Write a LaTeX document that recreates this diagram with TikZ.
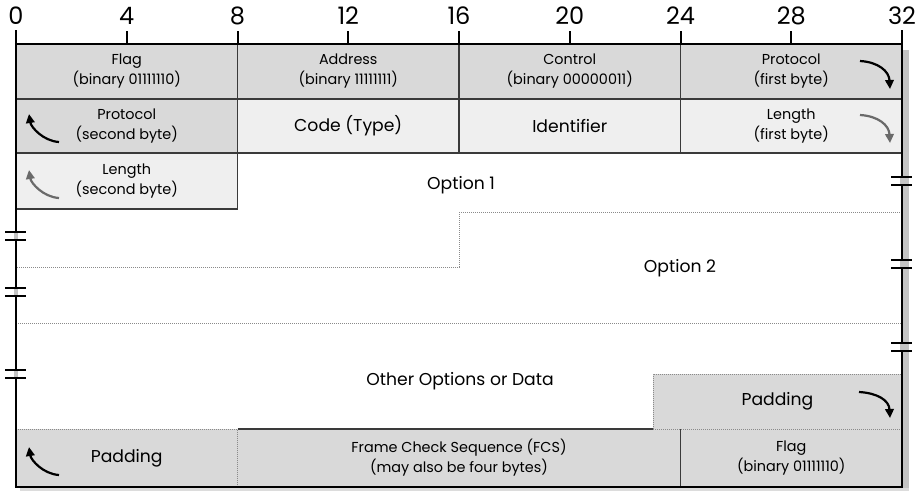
\documentclass[tikz,border=0pt]{standalone}
\usepackage{fontspec}
\setmainfont{Poppins}
\usetikzlibrary{arrows.meta}
\definecolor{midgray}{HTML}{D9D9D9}
\definecolor{litegray}{HTML}{EFEFEF}
\definecolor{linegray}{HTML}{3A3A3A}
\definecolor{dotgray}{HTML}{8A8A8A}
\definecolor{shadowgray}{HTML}{C4C4C4}
\definecolor{arrowgray}{HTML}{6A6A6A}
\begin{document}
\begin{tikzpicture}[x=1pt,y=-1pt,
  cell/.style={inner sep=0pt, outer sep=0pt, align=center, font=\fontsize{14.4}{20}\selectfont},
  bigfont/.style={font=\fontsize{17.2}{20}\selectfont},
  bigtext/.style={inner sep=0pt, align=center, bigfont},
  numtext/.style={inner sep=0pt, font=\fontsize{24}{28}\selectfont},
  frame/.style={line width=2.2pt, black},
  inner/.style={line width=1.3pt, linegray},
  dotline/.style={line width=1pt, dotgray, densely dotted},
  curvearrow/.style={line width=2.2pt, -{Triangle[length=9pt,width=8.5pt]}},
  breakline/.style={line width=2pt, black}
]
\useasboundingbox (0,0) rectangle (918,491);
\fill[white] (0,0) rectangle (918,491);
% shadow
\fill[shadowgray] (903,50) rectangle (909,491);
\fill[shadowgray!60] (20,488) rectangle (909,491);

% row 1
\node[cell, fill=midgray, minimum width=221.5pt, minimum height=55pt] (flagA) at (126.75,71.5) {Flag\\(binary 01111110)};
\node[cell, fill=midgray, minimum width=221.5pt, minimum height=55pt] (addr) at (348.25,71.5) {Address\\(binary 11111111)};
\node[cell, fill=midgray, minimum width=221.5pt, minimum height=55pt] (ctrl) at (569.75,71.5) {Control\\(binary 00000011)};
\node[cell, fill=midgray, minimum width=221.5pt, minimum height=55pt] (protoA) at (791.25,71.5) {Protocol\\(first byte)};
% row 2
\node[cell, fill=midgray, minimum width=221.5pt, minimum height=54pt] (protoB) at (126.75,126) {Protocol\\(second byte)};
\node[cell, fill=litegray, minimum width=221.5pt, minimum height=54pt, bigfont] (code) at (348.25,126) {Code (Type)};
\node[cell, fill=litegray, minimum width=221.5pt, minimum height=54pt, bigfont] (ident) at (569.75,126) {Identifier};
\node[cell, fill=litegray, minimum width=221.5pt, minimum height=54pt] (lenA) at (791.25,126) {Length\\(first byte)};
% row 3
\node[cell, fill=litegray, minimum width=221.5pt, minimum height=56pt] (lenB) at (126.75,181) {Length\\(second byte)};
% options
\node[bigtext] (opt1) at (461,185) {Option 1};
\node[bigtext] (opt2) at (680,268) {Option 2};
\node[bigtext] (other) at (460,381) {Other Options or Data};
% padding right
\node[cell, fill=midgray, minimum width=249pt, minimum height=55pt, bigfont] (padA) at (777.5,401.5) {Padding};
% bottom row
\node[cell, fill=midgray, minimum width=221.5pt, minimum height=58pt, bigfont] (padB) at (126.75,458) {Padding};
\node[cell, fill=midgray, minimum width=443pt, minimum height=58pt] (fcs) at (459,458) {Frame Check Sequence (FCS)\\(may also be four bytes)};
\node[cell, fill=midgray, minimum width=221.5pt, minimum height=58pt] (flagB) at (791.25,458) {Flag\\(binary 01111110)};

% inner solid lines
\draw[inner] (16,99) -- (902,99);
\draw[inner] (16,153) -- (902,153);
\draw[inner] (237.5,44) -- (237.5,209) -- (16,209);
\draw[inner] (459,44) -- (459,153);
\draw[inner] (680.5,44) -- (680.5,153);
\draw[inner] (237.5,429) -- (653,429);
\draw[inner] (680.5,429) -- (680.5,487);
% dotted lines
\draw[dotline] (459,212) -- (902,212);
\draw[dotline] (459,212) -- (459,267) -- (16,267);
\draw[dotline] (16,323) -- (902,323);
\draw[dotline] (653,429) -- (653,374) -- (902,374);
\draw[dotline] (653,429) -- (902,429);
\draw[dotline] (16,429) -- (237.5,429) -- (237.5,487);

% frame
\draw[frame] (16,30) -- (16,487);
\draw[frame] (902,30) -- (902,487);
\draw[frame] (14.9,44) -- (903.1,44);
\draw[frame] (14.9,487) -- (903.1,487);
\foreach \b in {4,8,...,28} {
  \draw[frame, line width=2pt] ({16+\b*27.6875},31) -- ({16+\b*27.6875},44);
}
% tick labels
\foreach \b in {0,4,...,32} {
  \node[numtext] (n\b) at ({16+\b*27.6875},16) {\b};
}

% break marks
\foreach \xx/\ya/\yb in {16/231.5/239.5, 16/287.5/295.5, 16/369.5/377.5, 902/177/185, 902/260/268, 902/342.5/350.5} {
  \fill[shadowgray] (\xx-1.6,\ya) rectangle (\xx+1.6,\yb);
  \draw[breakline] (\xx-11,\ya) -- (\xx+10,\ya);
  \draw[breakline] (\xx-11,\yb) -- (\xx+10,\yb);
}

% curved arrows
\draw[curvearrow] (protoA.east) ++(-42,-10.5) .. controls +(18,1) and +(-1,-18) .. ++(30,28);
\draw[curvearrow, arrowgray] (lenA.east) ++(-42,-11) .. controls +(18,1) and +(-1,-18) .. ++(30,28);
\draw[curvearrow] (padA.east) ++(-43,-9.5) .. controls +(18,1) and +(-1,-18) .. ++(31,26);
\draw[curvearrow] (protoB.west) ++(43,16) .. controls +(-16,-1) and +(2,13) .. ++(-30,-28);
\draw[curvearrow, arrowgray] (lenB.west) ++(43,17) .. controls +(-16,-1) and +(2,13) .. ++(-30,-28);
\draw[curvearrow] (padB.west) ++(43,17) .. controls +(-16,-1) and +(2,13) .. ++(-30,-28);
\end{tikzpicture}
\end{document}
